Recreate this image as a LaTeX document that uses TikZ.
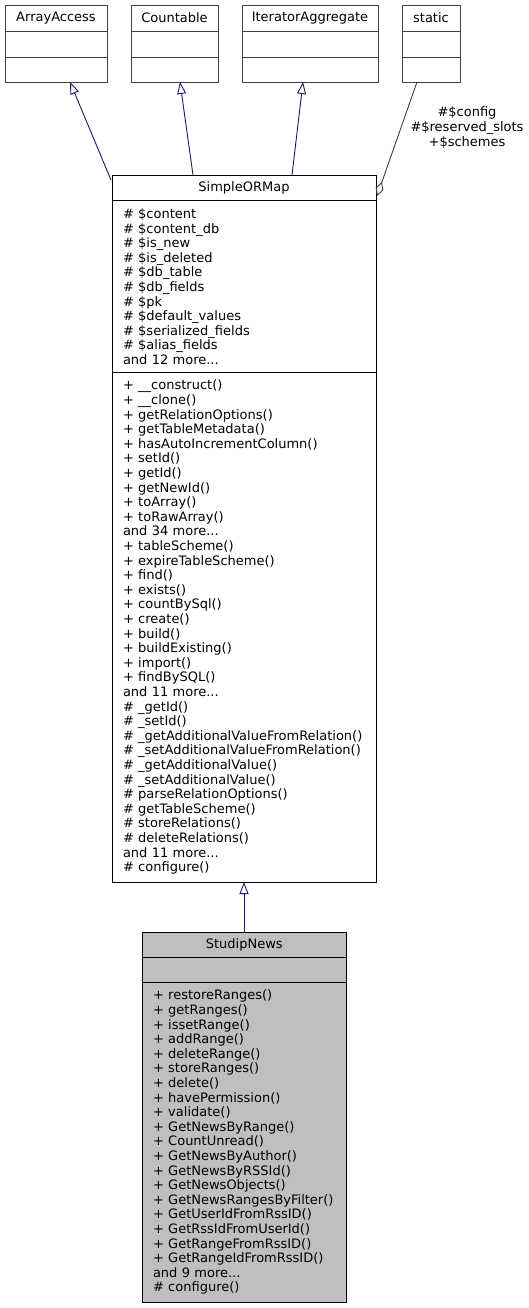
\documentclass[tikz,border=0pt]{standalone}
\usepackage{fontspec}
\setmainfont{DejaVu Sans}
\usetikzlibrary{arrows.meta,calc}
\definecolor{extgray}{HTML}{404040}
\definecolor{inhblue}{HTML}{191970}
\definecolor{agggray}{HTML}{404040}
\definecolor{selfill}{HTML}{BFBFBF}
\begin{document}
\begin{tikzpicture}[x=1pt,y=-1pt,
  every node/.style={font=\fontsize{13}{14.6}\selectfont},
  basebox/.style={rectangle, line width=0.9pt, inner sep=0pt, outer sep=0pt, anchor=north west},
  extbox/.style={basebox, draw=extgray},
  clsbox/.style={basebox, draw=black},
  selbox/.style={basebox, draw=black, fill=selfill},
  members/.style={align=left, text width=#1},
  inh/.style={draw=inhblue, line width=0.9pt, -{Triangle[open, length=12pt, width=9pt, line width=0.9pt]}},
  agg/.style={draw=agggray, line width=0.9pt, -{Diamond[open, length=15pt, width=8pt, line width=0.9pt]}},
  lbl/.style={align=center, font=\fontsize{13}{15.3}\selectfont}
]
\useasboundingbox (0,0) rectangle (529,1308);

% ArrayAccess
\node[extbox, minimum width=102pt, minimum height=26pt] (aa-n) at (5,5) {ArrayAccess};
\node[extbox, minimum width=102pt, minimum height=26pt] (aa-a) at (aa-n.south west) {};
\node[extbox, minimum width=102pt, minimum height=25pt] (aa-m) at (aa-a.south west) {};

% Countable
\node[extbox, minimum width=87pt, minimum height=26pt] (ct-n) at (131,5) {Countable};
\node[extbox, minimum width=87pt, minimum height=26pt] (ct-a) at (ct-n.south west) {};
\node[extbox, minimum width=87pt, minimum height=25pt] (ct-m) at (ct-a.south west) {};

% IteratorAggregate
\node[extbox, minimum width=136pt, minimum height=26pt] (ia-n) at (242,5) {IteratorAggregate};
\node[extbox, minimum width=136pt, minimum height=26pt] (ia-a) at (ia-n.south west) {};
\node[extbox, minimum width=136pt, minimum height=25pt] (ia-m) at (ia-a.south west) {};

% static
\node[extbox, minimum width=58pt, minimum height=26pt] (st-n) at (402,5) {static};
\node[extbox, minimum width=58pt, minimum height=26pt] (st-a) at (st-n.south west) {};
\node[extbox, minimum width=58pt, minimum height=25pt] (st-m) at (st-a.south west) {};

% SimpleORMap
\node[clsbox, minimum width=264pt, minimum height=25.7pt] (sm-n) at (112,175) {SimpleORMap};
\node[clsbox, minimum width=264pt, minimum height=171.8pt, members=242pt] (sm-a) at (sm-n.south west) {%
\# \$content\\
\# \$content\_db\\
\# \$is\_new\\
\# \$is\_deleted\\
\# \$db\_table\\
\# \$db\_fields\\
\# \$pk\\
\# \$default\_values\\
\# \$serialized\_fields\\
\# \$alias\_fields\\
and 12 more...};
\node[clsbox, minimum width=264pt, minimum height=509.5pt, members=242pt] (sm-m) at (sm-a.south west) {%
+ \_\_construct()\\
+ \_\_clone()\\
+ getRelationOptions()\\
+ getTableMetadata()\\
+ hasAutoIncrementColumn()\\
+ setId()\\
+ getId()\\
+ getNewId()\\
+ toArray()\\
+ toRawArray()\\
and 34 more...\\
+ tableScheme()\\
+ expireTableScheme()\\
+ find()\\
+ exists()\\
+ countBySql()\\
+ create()\\
+ build()\\
+ buildExisting()\\
+ import()\\
+ findBySQL()\\
and 11 more...\\
\# \_getId()\\
\# \_setId()\\
\# \_getAdditionalValueFromRelation()\\
\# \_setAdditionalValueFromRelation()\\
\# \_getAdditionalValue()\\
\# \_setAdditionalValue()\\
\# parseRelationOptions()\\
\# getTableScheme()\\
\# storeRelations()\\
\# deleteRelations()\\
and 11 more...\\
\# configure()};

% StudipNews
\node[selbox, minimum width=204.5pt, minimum height=25pt] (sn-n) at (142,932.7) {StudipNews};
\node[selbox, minimum width=204.5pt, minimum height=25pt] (sn-a) at (sn-n.south west) {};
\node[selbox, minimum width=204.5pt, minimum height=319.3pt, members=182.5pt] (sn-m) at (sn-a.south west) {%
+ restoreRanges()\\
+ getRanges()\\
+ issetRange()\\
+ addRange()\\
+ deleteRange()\\
+ storeRanges()\\
+ delete()\\
+ havePermission()\\
+ validate()\\
+ GetNewsByRange()\\
+ CountUnread()\\
+ GetNewsByAuthor()\\
+ GetNewsByRSSId()\\
+ GetNewsObjects()\\
+ GetNewsRangesByFilter()\\
+ GetUserIdFromRssID()\\
+ GetRssIdFromUserId()\\
+ GetRangeFromRssID()\\
+ GetRangeIdFromRssID()\\
and 9 more...\\
\# configure()};

% inheritance edges
\draw[inh] ($(sm-n.north west)+(-1,5)$) -- ($(aa-m.south)+(14,0)$);
\draw[inh] ($(sm-n.north west)+(81,0)$) -- ($(ct-m.south)+(5.5,0)$);
\draw[inh] ($(sm-n.north west)+(180,0)$) -- ($(ia-m.south)+(-7,0)$);
\draw[inh] (sn-n.north -| {(244,0)}) -- (sm-m.south -| {(244,0)});

% aggregation edge
\coordinate (aggend) at ($(sm-n.north east)+(1,21)$);
\draw[agg] ($(st-m.south)+(-14,0)$) -- (aggend);
\node[lbl] (agglbl) at (467,127.5) {\#\$config\\\#\$reserved\_slots\\+\$schemes};
\end{tikzpicture}
\end{document}
